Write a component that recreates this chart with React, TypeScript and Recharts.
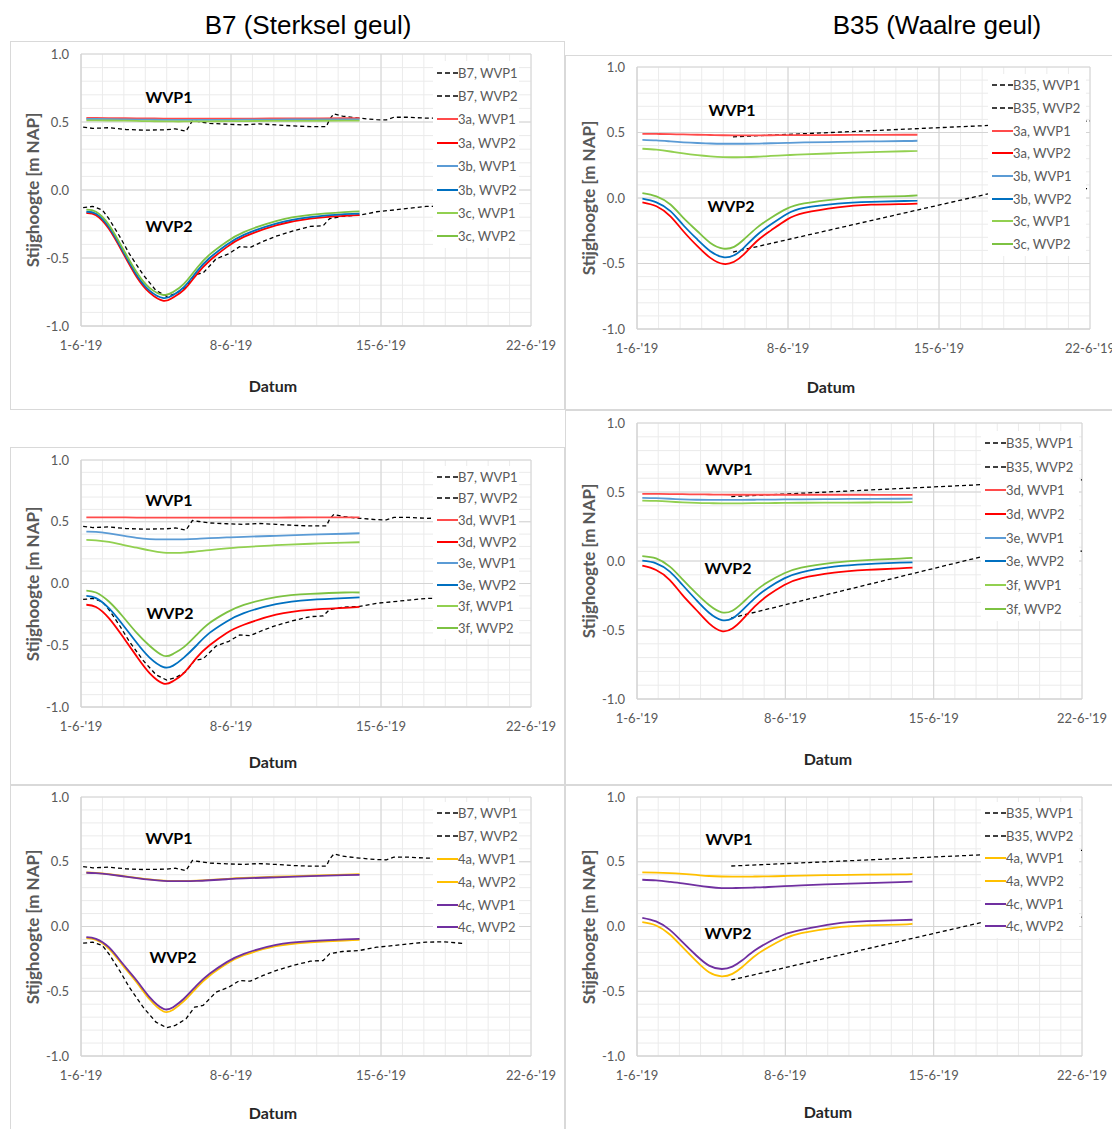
import React from 'react';
import { LineChart, Line, XAxis, YAxis, CartesianGrid } from 'recharts';

// x values are days after 1-6-'19
const majorDayTicks = [0, 7, 14, 21];
const xTickLabels = ["1-6-'19", "8-6-'19", "15-6-'19", "22-6-'19"];
const minorDayTicks = [0, 1, 2, 3, 4, 5, 6, 7, 8, 9, 10, 11, 12, 13, 14, 15, 16, 17, 18, 19, 20, 21];
const yTicks = [-1, -0.5, 0, 0.5, 1];
const minorValueTicks = [-1, -0.9, -0.8, -0.7, -0.6, -0.5, -0.4, -0.3, -0.2, -0.1, 0, 0.1, 0.2, 0.3, 0.4, 0.5, 0.6, 0.7, 0.8, 0.9, 1];

// observed heads B7
const b7Wvp1Days = [0.1, 0.55, 1.3, 2.1, 2.9, 4.0, 4.4, 4.9, 5.2, 5.5, 6.0, 6.8, 7.55, 8.3, 9.1, 9.9, 10.7, 11.45, 11.6, 11.8, 12.2, 13.0, 13.8, 14.25, 14.6, 15.3, 16.1, 17.8];
const b7Wvp1 = [0.463, 0.453, 0.458, 0.445, 0.44, 0.443, 0.45, 0.432, 0.51, 0.502, 0.49, 0.484, 0.479, 0.486, 0.479, 0.471, 0.466, 0.466, 0.52, 0.56, 0.543, 0.528, 0.517, 0.515, 0.535, 0.535, 0.528, 0.53];
const b7Wvp2Days = [0.1, 0.55, 1.0, 1.3, 1.8, 2.25, 2.9, 3.5, 4.0, 4.4, 4.9, 5.3, 5.7, 6.3, 6.9, 7.4, 7.9, 8.5, 9.1, 9.9, 10.7, 11.3, 11.6, 12.2, 13.0, 13.8, 14.6, 15.3, 16.1, 16.9, 17.8];
const b7Wvp2 = [-0.129, -0.121, -0.147, -0.211, -0.34, -0.468, -0.623, -0.739, -0.782, -0.764, -0.713, -0.623, -0.61, -0.507, -0.468, -0.417, -0.422, -0.378, -0.34, -0.301, -0.268, -0.263, -0.211, -0.193, -0.185, -0.16, -0.147, -0.134, -0.121, -0.118, -0.13];

// observed heads B35
const b35Wvp1Days = [4.45, 21];
const b35Wvp1 = [0.467, 0.588];
const b35Wvp2Days = [4.45, 16.9, 21];
const b35Wvp2 = [-0.413, 0.055, 0.072];

// model days
const simDaysB7 = [0.25, 0.7, 1.3, 1.95, 2.6, 3.2, 3.85, 4.3, 4.8, 5.4, 6, 6.8, 7.6, 9.1, 10.7, 12.3, 13];
const simDaysB35 = [0.25, 0.9, 1.55, 2.15, 2.8, 3.4, 4.0, 4.5, 4.95, 5.55, 6.2, 6.95, 7.75, 9.3, 10.85, 12.4, 13];

// B7 scenario 3a-3c
const b7s3aW1 = [0.53, 0.53, 0.529, 0.528, 0.527, 0.526, 0.525, 0.524, 0.524, 0.524, 0.525, 0.525, 0.525, 0.526, 0.527, 0.528, 0.528];
const b7s3aW2 = [-0.17, -0.185, -0.285, -0.46, -0.64, -0.755, -0.815, -0.79, -0.735, -0.62, -0.52, -0.42, -0.345, -0.26, -0.21, -0.19, -0.185];
const b7s3bW1 = [0.522, 0.522, 0.521, 0.52, 0.518, 0.517, 0.516, 0.515, 0.515, 0.515, 0.516, 0.516, 0.517, 0.518, 0.519, 0.52, 0.52];
const b7s3bW2 = [-0.16, -0.175, -0.272, -0.447, -0.625, -0.74, -0.795, -0.772, -0.715, -0.6, -0.5, -0.402, -0.33, -0.247, -0.2, -0.178, -0.173];
const b7s3cW1 = [0.512, 0.512, 0.511, 0.51, 0.508, 0.506, 0.505, 0.504, 0.504, 0.505, 0.505, 0.506, 0.507, 0.508, 0.509, 0.51, 0.51];
const b7s3cW2 = [-0.145, -0.16, -0.255, -0.43, -0.605, -0.72, -0.772, -0.75, -0.69, -0.575, -0.475, -0.38, -0.31, -0.228, -0.183, -0.162, -0.157];

// B7 scenario 3d-3f
const b7s3dW1 = [0.536, 0.536, 0.535, 0.535, 0.534, 0.534, 0.533, 0.533, 0.533, 0.533, 0.533, 0.533, 0.534, 0.534, 0.535, 0.535, 0.535];
const b7s3dW2 = [-0.172, -0.19, -0.28, -0.43, -0.59, -0.725, -0.81, -0.79, -0.725, -0.6, -0.5, -0.4, -0.334, -0.253, -0.213, -0.198, -0.19];
const b7s3eW1 = [0.42, 0.418, 0.405, 0.387, 0.37, 0.36, 0.357, 0.357, 0.358, 0.362, 0.367, 0.373, 0.378, 0.386, 0.395, 0.403, 0.407];
const b7s3eW2 = [-0.1, -0.118, -0.2, -0.334, -0.48, -0.6, -0.677, -0.665, -0.6, -0.5, -0.4, -0.307, -0.24, -0.167, -0.132, -0.118, -0.113];
const b7s3fW1 = [0.353, 0.35, 0.337, 0.313, 0.29, 0.268, 0.25, 0.248, 0.25, 0.26, 0.27, 0.285, 0.295, 0.31, 0.322, 0.331, 0.334];
const b7s3fW2 = [-0.057, -0.073, -0.146, -0.267, -0.4, -0.504, -0.585, -0.57, -0.515, -0.415, -0.32, -0.234, -0.173, -0.11, -0.084, -0.073, -0.073];

// B7 scenario 4a, 4c
const b7s4aW1 = [0.417, 0.414, 0.404, 0.39, 0.376, 0.364, 0.355, 0.353, 0.353, 0.355, 0.36, 0.368, 0.375, 0.384, 0.393, 0.4, 0.404];
const b7s4aW2 = [-0.09, -0.103, -0.17, -0.3, -0.432, -0.562, -0.656, -0.643, -0.577, -0.472, -0.38, -0.288, -0.222, -0.152, -0.122, -0.108, -0.104];
const b7s4cW1 = [0.415, 0.412, 0.402, 0.388, 0.374, 0.362, 0.352, 0.35, 0.35, 0.352, 0.357, 0.365, 0.372, 0.38, 0.389, 0.396, 0.399];
const b7s4cW2 = [-0.082, -0.095, -0.16, -0.288, -0.417, -0.545, -0.636, -0.623, -0.558, -0.455, -0.365, -0.275, -0.211, -0.142, -0.113, -0.1, -0.095];

// B35 scenario 3a-3c
const b35s3aW1 = [0.49, 0.489, 0.487, 0.485, 0.483, 0.481, 0.479, 0.478, 0.478, 0.478, 0.479, 0.48, 0.48, 0.481, 0.482, 0.483, 0.483];
const b35s3aW2 = [-0.033, -0.063, -0.14, -0.254, -0.368, -0.457, -0.503, -0.487, -0.431, -0.33, -0.249, -0.165, -0.114, -0.071, -0.051, -0.046, -0.043];
const b35s3bW1 = [0.444, 0.44, 0.432, 0.425, 0.42, 0.416, 0.414, 0.414, 0.414, 0.415, 0.418, 0.421, 0.424, 0.428, 0.432, 0.435, 0.437];
const b35s3bW2 = [-0.005, -0.033, -0.1, -0.208, -0.317, -0.406, -0.452, -0.437, -0.38, -0.284, -0.203, -0.122, -0.076, -0.043, -0.03, -0.023, -0.02];
const b35s3cW1 = [0.376, 0.369, 0.355, 0.34, 0.327, 0.318, 0.312, 0.311, 0.312, 0.315, 0.321, 0.327, 0.333, 0.342, 0.35, 0.357, 0.36];
const b35s3cW2 = [0.038, 0.013, -0.05, -0.152, -0.254, -0.343, -0.386, -0.373, -0.317, -0.228, -0.152, -0.081, -0.041, -0.008, 0.008, 0.015, 0.02];

// B35 scenario 3d-3f
const b35s3dW1 = [0.486, 0.486, 0.485, 0.484, 0.483, 0.482, 0.481, 0.48, 0.48, 0.48, 0.48, 0.48, 0.48, 0.48, 0.48, 0.479, 0.479];
const b35s3dW2 = [-0.034, -0.065, -0.138, -0.247, -0.355, -0.452, -0.508, -0.489, -0.428, -0.331, -0.247, -0.174, -0.126, -0.085, -0.065, -0.053, -0.048];
const b35s3eW1 = [0.457, 0.455, 0.451, 0.447, 0.444, 0.443, 0.443, 0.443, 0.443, 0.444, 0.445, 0.446, 0.447, 0.449, 0.45, 0.451, 0.452];
const b35s3eW2 = [0.002, -0.017, -0.077, -0.174, -0.283, -0.375, -0.428, -0.416, -0.36, -0.271, -0.193, -0.126, -0.082, -0.041, -0.022, -0.012, -0.01];
const b35s3fW1 = [0.438, 0.435, 0.43, 0.425, 0.421, 0.419, 0.418, 0.418, 0.418, 0.419, 0.42, 0.421, 0.422, 0.423, 0.424, 0.425, 0.426];
const b35s3fW2 = [0.036, 0.019, -0.041, -0.133, -0.235, -0.319, -0.372, -0.36, -0.307, -0.222, -0.15, -0.089, -0.048, -0.012, 0.007, 0.017, 0.022];

// B35 scenario 4a, 4c
const b35s4aW1 = [0.418, 0.416, 0.412, 0.406, 0.398, 0.39, 0.386, 0.385, 0.385, 0.386, 0.387, 0.39, 0.393, 0.397, 0.4, 0.403, 0.405];
const b35s4aW2 = [0.034, 0.008, -0.062, -0.16, -0.268, -0.354, -0.385, -0.366, -0.315, -0.23, -0.16, -0.095, -0.052, -0.01, 0.008, 0.015, 0.021];
const b35s4cW1 = [0.361, 0.356, 0.345, 0.333, 0.318, 0.305, 0.297, 0.297, 0.298, 0.301, 0.305, 0.312, 0.318, 0.327, 0.335, 0.342, 0.346];
const b35s4cW2 = [0.067, 0.039, -0.026, -0.121, -0.224, -0.302, -0.328, -0.31, -0.263, -0.186, -0.121, -0.062, -0.026, 0.021, 0.041, 0.049, 0.052];

const RED1 = '#FF4B4B';
const RED2 = '#FF0000';
const BLUE1 = '#5B9BD5';
const BLUE2 = '#0070C0';
const GREEN1 = '#92D050';
const GREEN2 = '#7DC242';
const YELLOW = '#FFC000';
const PURPLE = '#7030A0';
const OBS = '#000000';

const FONT = 'Lato, "Open Sans", sans-serif';
const TEXT_GREY = '#595959';

interface Series {
    name: string;
    days: number[];
    values: number[];
    color: string;
    dashed?: boolean;
}

interface Panel {
    frame: { x: number; y: number; w: number; h: number };
    plot: { l: number; r: number; t: number; b: number };
    series: Series[];
    legend: { x: number; y: number; w: number; step: number };
    wvp1: [number, number];
    wvp2: [number, number];
    datum: [number, number];
    yLabelX: number;
}

const obsB7 = (name: string): Series[] => [
    { name: `${name}, WVP1`, days: b7Wvp1Days, values: b7Wvp1, color: OBS, dashed: true },
    { name: `${name}, WVP2`, days: b7Wvp2Days, values: b7Wvp2, color: OBS, dashed: true },
];
const obsB35 = (name: string): Series[] => [
    { name: `${name}, WVP1`, days: b35Wvp1Days, values: b35Wvp1, color: OBS, dashed: true },
    { name: `${name}, WVP2`, days: b35Wvp2Days, values: b35Wvp2, color: OBS, dashed: true },
];

const panels: Panel[] = [
    {
        frame: { x: 10, y: 41, w: 555, h: 369 },
        plot: { l: 81, r: 531, t: 54, b: 326 },
        series: [
            ...obsB7('B7'),
            { name: '3a, WVP1', days: simDaysB7, values: b7s3aW1, color: RED1 },
            { name: '3a, WVP2', days: simDaysB7, values: b7s3aW2, color: RED2 },
            { name: '3b, WVP1', days: simDaysB7, values: b7s3bW1, color: BLUE1 },
            { name: '3b, WVP2', days: simDaysB7, values: b7s3bW2, color: BLUE2 },
            { name: '3c, WVP1', days: simDaysB7, values: b7s3cW1, color: GREEN1 },
            { name: '3c, WVP2', days: simDaysB7, values: b7s3cW2, color: GREEN2 },
        ],
        legend: { x: 433, y: 61, w: 86, step: 23.4 },
        wvp1: [169, 96], wvp2: [169, 225], datum: [273, 385], yLabelX: 32,
    },
    {
        frame: { x: 565, y: 55, w: 560, h: 355 },
        plot: { l: 637, r: 1090, t: 67, b: 329 },
        series: [
            ...obsB35('B35'),
            { name: '3a, WVP1', days: simDaysB35, values: b35s3aW1, color: RED1 },
            { name: '3a, WVP2', days: simDaysB35, values: b35s3aW2, color: RED2 },
            { name: '3b, WVP1', days: simDaysB35, values: b35s3bW1, color: BLUE1 },
            { name: '3b, WVP2', days: simDaysB35, values: b35s3bW2, color: BLUE2 },
            { name: '3c, WVP1', days: simDaysB35, values: b35s3cW1, color: GREEN1 },
            { name: '3c, WVP2', days: simDaysB35, values: b35s3cW2, color: GREEN2 },
        ],
        legend: { x: 988, y: 74, w: 98, step: 22.7 },
        wvp1: [732, 109], wvp2: [731, 205], datum: [831, 386], yLabelX: 588,
    },
    {
        frame: { x: 10, y: 447, w: 555, h: 338 },
        plot: { l: 81, r: 531, t: 460, b: 707 },
        series: [
            ...obsB7('B7'),
            { name: '3d, WVP1', days: simDaysB7, values: b7s3dW1, color: RED1 },
            { name: '3d, WVP2', days: simDaysB7, values: b7s3dW2, color: RED2 },
            { name: '3e, WVP1', days: simDaysB7, values: b7s3eW1, color: BLUE1 },
            { name: '3e, WVP2', days: simDaysB7, values: b7s3eW2, color: BLUE2 },
            { name: '3f, WVP1', days: simDaysB7, values: b7s3fW1, color: GREEN1 },
            { name: '3f, WVP2', days: simDaysB7, values: b7s3fW2, color: GREEN2 },
        ],
        legend: { x: 433, y: 466, w: 86, step: 21.6 },
        wvp1: [169, 499], wvp2: [170, 612], datum: [273, 761], yLabelX: 32,
    },
    {
        frame: { x: 565, y: 410, w: 560, h: 375 },
        plot: { l: 637, r: 1082, t: 423, b: 699 },
        series: [
            ...obsB35('B35'),
            { name: '3d, WVP1', days: simDaysB35, values: b35s3dW1, color: RED1 },
            { name: '3d, WVP2', days: simDaysB35, values: b35s3dW2, color: RED2 },
            { name: '3e, WVP1', days: simDaysB35, values: b35s3eW1, color: BLUE1 },
            { name: '3e, WVP2', days: simDaysB35, values: b35s3eW2, color: BLUE2 },
            { name: '3f, WVP1', days: simDaysB35, values: b35s3fW1, color: GREEN1 },
            { name: '3f, WVP2', days: simDaysB35, values: b35s3fW2, color: GREEN2 },
        ],
        legend: { x: 981, y: 431, w: 98, step: 23.7 },
        wvp1: [729, 468], wvp2: [728, 567], datum: [828, 758], yLabelX: 588,
    },
    {
        frame: { x: 10, y: 785, w: 555, h: 350 },
        plot: { l: 81, r: 531, t: 797, b: 1056 },
        series: [
            ...obsB7('B7'),
            { name: '4a, WVP1', days: simDaysB7, values: b7s4aW1, color: YELLOW },
            { name: '4a, WVP2', days: simDaysB7, values: b7s4aW2, color: YELLOW },
            { name: '4c, WVP1', days: simDaysB7, values: b7s4cW1, color: PURPLE },
            { name: '4c, WVP2', days: simDaysB7, values: b7s4cW2, color: PURPLE },
        ],
        legend: { x: 433, y: 802, w: 86, step: 22.8 },
        wvp1: [169, 837], wvp2: [173, 956], datum: [273, 1112], yLabelX: 32,
    },
    {
        frame: { x: 565, y: 785, w: 560, h: 350 },
        plot: { l: 637, r: 1082, t: 797, b: 1056 },
        series: [
            ...obsB35('B35'),
            { name: '4a, WVP1', days: simDaysB35, values: b35s4aW1, color: YELLOW },
            { name: '4a, WVP2', days: simDaysB35, values: b35s4aW2, color: YELLOW },
            { name: '4c, WVP1', days: simDaysB35, values: b35s4cW1, color: PURPLE },
            { name: '4c, WVP2', days: simDaysB35, values: b35s4cW2, color: PURPLE },
        ],
        legend: { x: 981, y: 802, w: 98, step: 22.6 },
        wvp1: [729, 838], wvp2: [728, 932], datum: [828, 1111], yLabelX: 588,
    },
];

const Y_AXIS_W = 50;
const X_AXIS_H = 30;

const centered = (x: number, y: number): React.CSSProperties => ({
    position: 'absolute',
    left: x,
    top: y,
    transform: 'translate(-50%, -50%)',
    whiteSpace: 'nowrap',
});

const PanelChart: React.FC<{ p: Panel }> = ({ p }) => {
    const { frame, plot } = p;
    const margin = {
        top: plot.t - frame.y,
        left: plot.l - frame.x - Y_AXIS_W,
        right: frame.x + frame.w - plot.r,
        bottom: frame.y + frame.h - plot.b - X_AXIS_H,
    };
    const wvpStyle: React.CSSProperties = { fontFamily: FONT, fontWeight: 700, fontSize: 16, color: '#000' };

    return (
        <>
            <div style={{ position: 'absolute', left: frame.x, top: frame.y, width: frame.w, height: frame.h, border: '1px solid #D9D9D9', boxSizing: 'border-box' }} />
            <div style={{ position: 'absolute', left: frame.x, top: frame.y }}>
                <LineChart width={frame.w} height={frame.h} margin={margin}>
                    {/* minor grid: one line per day and per 0.1 m, then the major grid */}
                    <CartesianGrid horizontalValues={minorValueTicks} verticalValues={minorDayTicks} stroke="#EBEBEB" />
                    <CartesianGrid stroke="#D4D4D4" />
                    <XAxis
                        type="number"
                        dataKey="x"
                        domain={[0, 21]}
                        ticks={majorDayTicks}
                        interval={0}
                        allowDataOverflow
                        height={X_AXIS_H}
                        tickSize={0}
                        tickMargin={15}
                        axisLine={{ stroke: '#D4D4D4' }}
                        tick={{ fill: TEXT_GREY, fontSize: 13, fontFamily: FONT }}
                        tickFormatter={(v: number) => xTickLabels[majorDayTicks.indexOf(v)]}
                    />
                    <YAxis
                        type="number"
                        domain={[-1, 1]}
                        ticks={yTicks}
                        interval={0}
                        width={Y_AXIS_W}
                        tickSize={0}
                        tickMargin={12}
                        axisLine={{ stroke: '#D4D4D4' }}
                        tick={{ fill: TEXT_GREY, fontSize: 13, fontFamily: FONT }}
                        tickFormatter={(v: number) => v.toFixed(1)}
                    />
                    {p.series.map((s, i) => (
                        <Line
                            key={i}
                            data={s.days.map((d, j) => ({ x: d, y: s.values[j] }))}
                            dataKey="y"
                            type={s.dashed ? 'linear' : 'natural'}
                            stroke={s.color}
                            strokeWidth={s.dashed ? 1.3 : 1.8}
                            strokeDasharray={s.dashed ? '4 3' : undefined}
                            dot={false}
                            activeDot={false}
                            isAnimationActive={false}
                        />
                    ))}
                </LineChart>
            </div>

            {/* legend box, opaque like the Excel one */}
            <div style={{ position: 'absolute', left: p.legend.x, top: p.legend.y, width: p.legend.w, background: '#fff', fontFamily: FONT, fontSize: 13, color: TEXT_GREY }}>
                {p.series.map((s, i) => (
                    <div key={i} style={{ height: p.legend.step, display: 'flex', alignItems: 'center', paddingLeft: 4 }}>
                        <svg width={21} height={6} style={{ flexShrink: 0 }}>
                            <line x1={0} y1={3} x2={21} y2={3} stroke={s.color} strokeWidth={s.dashed ? 1.3 : 2} strokeDasharray={s.dashed ? '5 3' : undefined} />
                        </svg>
                        <span style={{ whiteSpace: 'nowrap' }}>{s.name}</span>
                    </div>
                ))}
            </div>

            <div style={{ ...centered(p.wvp1[0], p.wvp1[1]), ...wvpStyle }}>WVP1</div>
            <div style={{ ...centered(p.wvp2[0], p.wvp2[1]), ...wvpStyle }}>WVP2</div>
            <div style={{ ...centered(p.datum[0], p.datum[1]), fontFamily: FONT, fontWeight: 700, fontSize: 16, color: '#262626' }}>Datum</div>
            <div style={{ ...centered(p.yLabelX, (plot.t + plot.b) / 2), transform: 'translate(-50%, -50%) rotate(-90deg)', fontFamily: FONT, fontWeight: 700, fontSize: 17, color: TEXT_GREY }}>
                Stijghoogte [m NAP]
            </div>
        </>
    );
};

export default function App() {
    return (
        <div style={{ position: 'absolute', left: 0, top: 0, width: 1112, height: 1129, overflow: 'hidden', background: '#fff' }}>
            <div style={{ ...centered(308, 25), fontFamily: '"Liberation Sans", Arial, sans-serif', fontSize: 26, color: '#000' }}>B7 (Sterksel geul)</div>
            <div style={{ ...centered(937, 25), fontFamily: '"Liberation Sans", Arial, sans-serif', fontSize: 26, color: '#000' }}>B35 (Waalre geul)</div>
            {panels.map((p, i) => (
                <PanelChart key={i} p={p} />
            ))}
        </div>
    );
}
